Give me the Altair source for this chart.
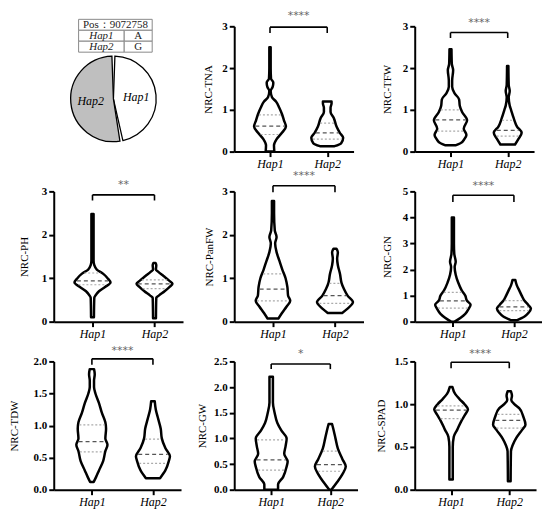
import altair as alt
import numpy as np
import pandas as pd

SERIF = "Liberation Serif"

# ---------------- data ----------------
HAPS = ["Hap1", "Hap2"]
HAP_POS = [1, 2]
ALLELES = ["A", "G"]
POS_LABEL = "Pos：9072758"
PIE_SHARE = [47, 53]          # Hap1, Hap2 (%)

# violin outlines: (trait value, relative width in % of the widest violin)
TNA_HAP1 = [(0.0, 26), (0.15, 24), (0.3, 40), (0.45, 72), (0.6, 96), (0.75, 84), (0.9, 72),
            (1.05, 56), (1.2, 36), (1.3, 12), (1.45, 4), (1.55, 16), (1.65, 20), (1.75, 6),
            (2.0, 4), (2.5, 4)]
TNA_HAP2 = [(0.13, 44), (0.2, 84), (0.33, 96), (0.45, 76), (0.6, 56), (0.8, 40), (0.95, 20),
            (1.05, 20), (1.15, 26), (1.2, 26)]
TFW_HAP1 = [(0.15, 30), (0.2, 60), (0.3, 84), (0.4, 96), (0.55, 80), (0.75, 100), (0.95, 70),
            (1.1, 56), (1.25, 52), (1.4, 24), (1.55, 10), (1.7, 10), (1.95, 16), (2.1, 8),
            (2.45, 6)]
TFW_HAP2 = [(0.17, 44), (0.3, 64), (0.45, 84), (0.6, 56), (0.8, 36), (1.0, 20), (1.1, 12),
            (1.3, 6), (1.45, 12), (1.6, 6), (2.05, 4)]
PH_HAP1 = [(0.1, 8), (0.55, 10), (0.6, 16), (0.7, 36), (0.8, 70), (0.9, 100), (1.0, 84),
           (1.1, 60), (1.2, 24), (1.3, 10), (1.4, 6), (2.48, 6)]
PH_HAP2 = [(0.08, 8), (0.55, 10), (0.6, 24), (0.7, 56), (0.8, 84), (0.87, 100), (0.95, 80),
           (1.05, 50), (1.15, 20), (1.2, 8), (1.3, 10), (1.35, 6)]
PANFW_HAP1 = [(0.07, 30), (0.2, 50), (0.35, 76), (0.48, 96), (0.6, 84), (0.8, 80), (1.0, 70),
              (1.2, 52), (1.4, 36), (1.6, 20), (1.8, 12), (1.95, 20), (2.1, 10), (2.5, 6),
              (2.78, 6)]
PANFW_HAP2 = [(0.2, 40), (0.3, 70), (0.45, 100), (0.6, 70), (0.75, 50), (0.9, 36), (1.1, 28),
              (1.3, 16), (1.45, 12), (1.6, 16), (1.68, 8)]
GN_HAP1 = [(0.0, 10), (0.15, 44), (0.3, 70), (0.5, 90), (0.65, 100), (0.8, 80), (1.0, 70),
           (1.2, 50), (1.5, 30), (1.8, 16), (2.1, 10), (2.3, 16), (2.6, 8), (3.0, 6), (4.0, 6)]
GN_HAP2 = [(0.05, 16), (0.2, 60), (0.35, 84), (0.5, 96), (0.65, 80), (0.8, 60), (1.0, 44),
           (1.2, 30), (1.4, 16), (1.6, 8)]
TDW_HAP1 = [(0.12, 10), (0.2, 24), (0.3, 40), (0.45, 64), (0.6, 76), (0.7, 88), (0.8, 76),
            (0.95, 80), (1.05, 76), (1.2, 56), (1.35, 40), (1.5, 20), (1.6, 12), (1.7, 12),
            (1.8, 16), (1.88, 12)]
TDW_HAP2 = [(0.18, 40), (0.3, 70), (0.45, 90), (0.52, 96), (0.65, 70), (0.8, 50), (0.95, 44),
            (1.1, 30), (1.25, 16), (1.38, 10)]
GW_HAP1 = [(0.0, 40), (0.1, 40), (0.25, 70), (0.45, 90), (0.55, 96), (0.7, 76), (0.85, 84),
           (1.0, 90), (1.15, 60), (1.3, 36), (1.5, 20), (1.7, 10), (2.0, 10), (2.2, 10)]
GW_HAP2 = [(0.0, 6), (0.15, 40), (0.3, 70), (0.45, 90), (0.6, 70), (0.8, 44), (1.0, 30),
           (1.15, 20), (1.28, 10)]
SPAD_HAP1 = [(0.12, 10), (0.5, 10), (0.62, 16), (0.7, 36), (0.8, 60), (0.88, 84), (0.94, 100),
             (1.0, 80), (1.06, 50), (1.12, 24), (1.2, 8)]
SPAD_HAP2 = [(0.1, 8), (0.45, 10), (0.52, 20), (0.6, 40), (0.7, 76), (0.76, 96), (0.85, 84),
             (0.95, 60), (1.0, 30), (1.05, 12), (1.1, 16), (1.15, 10)]

# quartiles (lower, median, upper) per haplotype
TNA_Q = [(0.41, 0.61, 0.88), (0.30, 0.45, 0.68)]
TFW_Q = [(0.49, 0.76, 1.00), (0.37, 0.51, 0.75)]
PH_Q = [(0.85, 0.94, 1.12), (0.76, 0.87, 0.96)]
PANFW_Q = [(0.48, 0.75, 1.10), (0.42, 0.60, 0.88)]
GN_Q = [(0.52, 0.80, 1.12), (0.42, 0.57, 0.81)]
TDW_Q = [(0.59, 0.75, 1.01), (0.41, 0.55, 0.79)]
GW_Q = [(0.38, 0.58, 0.97), (0.36, 0.49, 0.75)]
SPAD_Q = [(0.83, 0.93, 0.98), (0.72, 0.81, 0.88)]

TRAITS = ["NRC-TNA", "NRC-TFW", "NRC-PH", "NRC-PanFW", "NRC-GN", "NRC-TDW", "NRC-GW", "NRC-SPAD"]
Y_MAX = [3, 3, 3, 3, 5, 2, 2.5, 1.5]
Y_TICKS = [[0, 1, 2, 3], [0, 1, 2, 3], [0, 1, 2, 3], [0, 1, 2, 3], [0, 1, 2, 3, 4, 5],
           [0, 0.5, 1, 1.5, 2], [0, 0.5, 1, 1.5, 2, 2.5], [0, 0.5, 1, 1.5]]
Y_FMT = ["d", "d", "d", "d", "d", ".1f", ".1f", ".1f"]
SIG = ["****", "****", "**", "****", "****", "****", "*", "****"]
BRACKET_Y = [2.98, 2.85, 2.92, 3.13, 4.85, 2.04, 2.45, 1.49]
LEG_Y = [2.84, 2.72, 2.79, 2.98, 4.59, 1.95, 2.35, 1.42]
STAR_Y = [3.25, 3.07, 3.14, 3.36, 5.22, 2.17, 2.64, 1.59]
PROFILES = [(TNA_HAP1, TNA_HAP2), (TFW_HAP1, TFW_HAP2), (PH_HAP1, PH_HAP2),
            (PANFW_HAP1, PANFW_HAP2), (GN_HAP1, GN_HAP2), (TDW_HAP1, TDW_HAP2),
            (GW_HAP1, GW_HAP2), (SPAD_HAP1, SPAD_HAP2)]
QUARTILES = [TNA_Q, TFW_Q, PH_Q, PANFW_Q, GN_Q, TDW_Q, GW_Q, SPAD_Q]

# ---------------- layout / style ----------------
PANEL_W = [120, 120, 130, 130, 128, 128, 124, 122]
PANEL_H = [126, 126, 131, 131, 131, 129, 129, 129]
PIE_H = 126
TITLE_D = [20.5, 22.5, 24, 19.5, 22.5, 34.3, 26.5, 28]
X_DOMAIN = [0.375, 2.46]
HALF_W = 0.29      # half width (x units) of a 100% violin
INSET = 0.02


def violin_panel(i):
    xs = alt.Scale(domain=X_DOMAIN, nice=False, zero=False)
    ys = alt.Scale(domain=[0, Y_MAX[i]], nice=False, zero=True)
    vrows, qrows = [], []
    for hap, pos, prof, quart in zip(HAPS, HAP_POS, PROFILES[i], QUARTILES[i]):
        yv = [p[0] for p in prof]
        wv = [p[1] for p in prof]
        for y, w in prof:
            half = HALF_W * w / 100
            vrows.append(dict(hap=hap, y=y, xl=pos - half, xr=pos + half))
        for kind, q in zip(["lo", "med", "hi"], quart):
            half = max(HALF_W * np.interp(q, yv, wv) / 100 - INSET, 0.01)
            qrows.append(dict(hap=hap, kind=kind, y=q, x1=pos - half, x2=pos + half))
    vdf = pd.DataFrame(vrows)
    qdf = pd.DataFrame(qrows)

    yaxis = alt.Axis(values=Y_TICKS[i], format=Y_FMT[i], labelOverlap=False,
                     labelFont=SERIF, titleFont=SERIF, labelFontWeight="bold",
                     minExtent=TITLE_D[i] - 4, maxExtent=TITLE_D[i] - 4)
    label_expr = "datum.value == %d ? '%s' : '%s'" % (HAP_POS[0], HAPS[0], HAPS[1])
    xaxis = alt.Axis(values=HAP_POS, labelExpr=label_expr, labelFlush=False,
                     labelOverlap=False, labelFont=SERIF, labelFontStyle="italic")

    def X(f):
        return alt.X(f, scale=xs, axis=xaxis, title=None)

    def Y(f):
        return alt.Y(f, scale=ys, axis=yaxis, title=TRAITS[i])

    area = alt.Chart(vdf).mark_area(
        orient="horizontal", fill="white", stroke="black", strokeWidth=2.5,
        interpolate="monotone", strokeJoin="round"
    ).encode(
        y=Y("y:Q"),
        x=alt.X("xl:Q", scale=xs, axis=xaxis, stack=None, title=None),
        x2="xr:Q",
        detail="hap:N",
    )
    med = alt.Chart(qdf).transform_filter("datum.kind == 'med'").mark_rule(
        color="#555", strokeWidth=1.2, strokeDash=[4, 3]
    ).encode(x=X("x1:Q"), x2="x2:Q", y=Y("y:Q"))
    qq = alt.Chart(qdf).transform_filter("datum.kind != 'med'").mark_rule(
        color="#aaa", strokeWidth=1.2, strokeDash=[2, 2]
    ).encode(x=X("x1:Q"), x2="x2:Q", y=Y("y:Q"))
    bdf = pd.DataFrame({"x1": [HAP_POS[0]], "x2": [HAP_POS[1]], "y": [BRACKET_Y[i]]})
    bracket = alt.Chart(bdf).mark_rule(color="black", strokeWidth=1.6).encode(
        x=X("x1:Q"), x2="x2:Q", y=Y("y:Q"))
    ldf = pd.DataFrame({"x": HAP_POS, "y": [BRACKET_Y[i]] * 2, "y2": [LEG_Y[i]] * 2})
    legs = alt.Chart(ldf).mark_rule(color="black", strokeWidth=1.6).encode(
        x=X("x:Q"), y=Y("y:Q"), y2="y2:Q")
    sdf = pd.DataFrame({"x": [sum(HAP_POS) / 2], "y": [STAR_Y[i]], "t": [SIG[i]]})
    stars = alt.Chart(sdf).mark_text(
        color="#666", fontSize=11, font="DejaVu Sans", baseline="middle"
    ).encode(x=X("x:Q"), y=Y("y:Q"), text="t:N")
    return alt.layer(area, med, qq, bracket, legs, stars).properties(
        width=PANEL_W[i], height=PANEL_H[i])


def pie_panel():
    pdf = pd.DataFrame({"hap": HAPS, "share": PIE_SHARE, "ord": [0, 1]})
    cx, cy = 60, 73
    arc = alt.Chart(pdf).mark_arc(
        outerRadius=43, stroke="black", strokeWidth=1.3, padAngle=0.07
    ).encode(
        theta=alt.Theta("share:Q", stack=True),
        order=alt.Order("ord:Q"),
        color=alt.Color("hap:N", scale=alt.Scale(domain=HAPS, range=["white", "#bfbfbf"]),
                        legend=None),
        x=alt.value(cx), y=alt.value(cy),
    )
    lab = alt.Chart(pdf).mark_text(
        radius=23, font=SERIF, fontSize=12, fontStyle="italic", color="black"
    ).encode(
        theta=alt.Theta("share:Q", stack=True),
        order=alt.Order("ord:Q"),
        text="hap:N",
        x=alt.value(cx), y=alt.value(cy),
    )
    # table
    split = 0.62
    cells = pd.DataFrame({
        "x0": [0, 0, split, 0, split],
        "x1": [1, split, 1, split, 1],
        "y0": [0, 1, 1, 2, 2],
        "y1": [1, 2, 2, 3, 3],
    })
    tx = alt.Scale(domain=[0, 1], range=[25, 99], nice=False, zero=False)
    ty = alt.Scale(domain=[0, 3], range=[-7, 26], nice=False, zero=False)
    rect = alt.Chart(cells).mark_rect(fill="white", stroke="#888", strokeWidth=1).encode(
        x=alt.X("x0:Q", scale=tx, axis=None), x2="x1:Q",
        y=alt.Y("y0:Q", scale=ty, axis=None), y2="y1:Q")
    plain = pd.DataFrame({"x": [0.5] + [(1 + split) / 2] * 2, "y": [0.5, 1.5, 2.5],
                          "t": [POS_LABEL] + ALLELES})
    ital = pd.DataFrame({"x": [split / 2] * 2, "y": [1.5, 2.5], "t": HAPS})
    t1 = alt.Chart(plain).mark_text(font=SERIF, fontSize=11, color="#222").encode(
        x=alt.X("x:Q", scale=tx, axis=None), y=alt.Y("y:Q", scale=ty, axis=None), text="t:N")
    t2 = alt.Chart(ital).mark_text(font=SERIF, fontSize=11, fontStyle="italic",
                                   color="#222").encode(
        x=alt.X("x:Q", scale=tx, axis=None), y=alt.Y("y:Q", scale=ty, axis=None), text="t:N")
    return alt.layer(rect, t1, t2, arc, lab).properties(width=122, height=PIE_H)


cells = [pie_panel()] + [violin_panel(i) for i in range(8)]
chart = alt.concat(
    *cells, columns=3, spacing={"row": 40, "column": 51.5}, bounds="flush", align="each"
).properties(
    padding=0, background="white"
).configure_view(
    stroke=None
).configure_axis(
    grid=False, domainColor="black", domainWidth=2, tickColor="black", tickWidth=2,
    tickSize=5, labelFont=SERIF, labelColor="black", labelPadding=2,
    titleFont=SERIF, titleColor="black", titleFontWeight="normal", titleFontSize=11,
    titlePadding=4
).configure_axisX(
    labelFontSize=12, labelFontStyle="italic"
).configure_axisY(
    labelFontSize=11, labelFontWeight="bold"
)

chart.save("out.html", embed_options={"renderer": "svg", "actions": False})
